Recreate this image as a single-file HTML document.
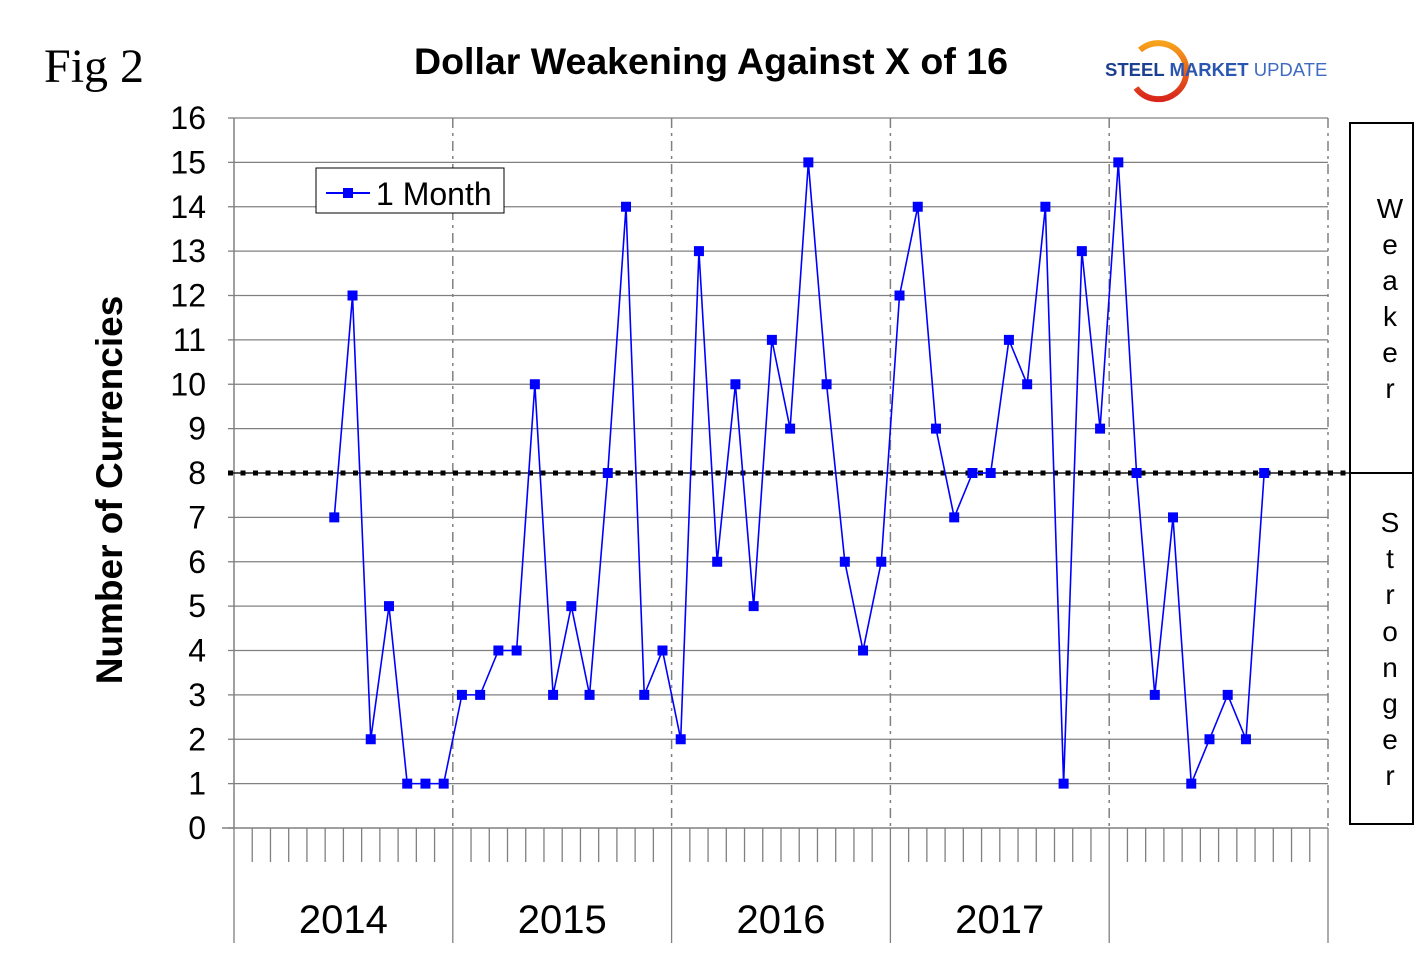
<!DOCTYPE html>
<html><head><meta charset="utf-8"><style>
body{margin:0;background:#fff;}
svg{display:block;font-family:"Liberation Sans",Arial,sans-serif;}
</style></head><body>
<svg id="chart" width="1422" height="973" viewBox="0 0 1422 973" xmlns="http://www.w3.org/2000/svg">
<text x="44" y="82" font-family="Liberation Serif,serif" font-size="48">Fig 2</text>
<text x="711" y="74" text-anchor="middle" font-size="37.5" font-weight="bold">Dollar Weakening Against X of 16</text>
<g>
<defs><linearGradient id="lg" x1="0" y1="0" x2="0" y2="1"><stop offset="0" stop-color="#f7a21b"/><stop offset="1" stop-color="#d8261b"/></linearGradient></defs>
<path d="M1140 50 A28 28 0 1 1 1136 88" fill="none" stroke="url(#lg)" stroke-width="6"/>
<text x="1105" y="76" font-size="18.5" font-weight="bold" fill="#1d3f8f">STEEL <tspan fill="#2a56b0">MARKET</tspan> <tspan font-weight="normal" fill="#3f6bc0">UPDATE</tspan></text>
</g>
<text transform="translate(122,490) rotate(-90)" text-anchor="middle" font-size="37" font-weight="bold">Number of Currencies</text>
<g id="grid"></g>
<g id="axes"></g>
<g id="series"></g>
<g>
<rect x="316" y="168" width="188" height="45" fill="#fff" stroke="#000" stroke-width="1"/>
<line x1="326" y1="193" x2="370" y2="193" stroke="#0000ff" stroke-width="2"/>
<rect x="343" y="188" width="10" height="10" fill="#0000ff"/>
<text x="376" y="205" font-size="32">1 Month</text>
</g>
<g>
<rect x="1350" y="123" width="63" height="701" fill="none" stroke="#000" stroke-width="2"/>
<line x1="1350" y1="473" x2="1413" y2="473" stroke="#000" stroke-width="2"/>
<text font-size="28" text-anchor="middle"><tspan x="1390" y="218">W</tspan><tspan x="1390" y="254">e</tspan><tspan x="1390" y="290">a</tspan><tspan x="1390" y="326">k</tspan><tspan x="1390" y="362">e</tspan><tspan x="1390" y="398">r</tspan></text>
<text font-size="28" text-anchor="middle"><tspan x="1390" y="532">S</tspan><tspan x="1390" y="568">t</tspan><tspan x="1390" y="604">r</tspan><tspan x="1390" y="641">o</tspan><tspan x="1390" y="677">n</tspan><tspan x="1390" y="713">g</tspan><tspan x="1390" y="749">e</tspan><tspan x="1390" y="785">r</tspan></text>
</g>
</svg>
<script>
const years = ["2014","2015","2016","2017",""];
const startMonthIndex = 5;
const values = [7,12,2,5,1,1,1,
 3,3,4,4,10,3,5,3,8,14,3,4,
 2,13,6,10,5,11,9,15,10,6,4,6,
 12,14,9,7,8,8,11,10,14,1,13,9,
 15,8,3,7,1,2,3,2,8];
const yTicks = [0,1,2,3,4,5,6,7,8,9,10,11,12,13,14,15,16];
const threshold = 8;

const NS="http://www.w3.org/2000/svg";
const X0=234, X1=1328, Y0=828, Y1=118, YMAX=16;
const monthW=(X1-X0)/(years.length*12);
const xm=i=>X0+(i+0.5)*monthW;
const yv=v=>Y0-(v/YMAX)*(Y0-Y1);
function mk(tag,attrs,parent){const e=document.createElementNS(NS,tag);for(const k in attrs)e.setAttribute(k,attrs[k]);parent.appendChild(e);return e;}
const grid=document.getElementById('grid'),axes=document.getElementById('axes'),series=document.getElementById('series');

yTicks.forEach(t=>{
  const y=yv(t);
  if(t>0){const l=mk('line',{x1:X0,y1:y,x2:X1,y2:y,stroke:'#808080','stroke-width':1.3},grid);
  
  }
  const tk=mk('line',{x1:X0-6,y1:y,x2:X0,y2:y,stroke:'#808080','stroke-width':1.3},axes);
  
  
  const tx=mk('text',{x:206,y:y+11,'text-anchor':'end','font-size':32},axes);
  tx.textContent=t;
  
  
});
for(let k=0;k<=years.length;k++){
  const x=X0+k*12*monthW;
  if(k>0){const d=mk('line',{x1:x,y1:Y1,x2:x,y2:Y0,stroke:'#808080','stroke-width':1.5,'stroke-dasharray':'10,5,3,5'},grid);
  
  }
  const b=mk('line',{x1:x,y1:Y0,x2:x,y2:943,stroke:'#808080','stroke-width':1.3},axes);
  
  
}
for(let m=1;m<years.length*12;m++){
  if(m%12===0)continue;
  const x=X0+m*monthW;
  const t=mk('line',{x1:x,y1:Y0,x2:x,y2:862,stroke:'#808080','stroke-width':1.3},axes);
  
  
}
years.forEach((yr,k)=>{
  if(!yr)return;
  const t=mk('text',{x:X0+(k+0.5)*12*monthW,y:933,'text-anchor':'middle','font-size':40},axes);
  t.textContent=yr;
  
  
});
const ax=mk('line',{x1:X0,y1:Y1,x2:X0,y2:Y0,stroke:'#808080','stroke-width':1.5},axes);


const xa=mk('line',{x1:222,y1:Y0,x2:X1,y2:Y0,stroke:'#808080','stroke-width':1.5},axes);



const th1=mk('line',{x1:228,y1:yv(threshold),x2:1350,y2:yv(threshold),stroke:'#000','stroke-width':1.3},series);


const th2=mk('line',{x1:228,y1:yv(threshold),x2:1350,y2:yv(threshold),stroke:'#000','stroke-width':5,'stroke-dasharray':'5,7.5'},series);



const pts=values.map((v,i)=>[xm(startMonthIndex+i),yv(v)]);
const pl=mk('polyline',{points:pts.map(p=>p.join(',')).join(' '),fill:'none',stroke:'#0000ff','stroke-width':1.6},series);


pts.forEach(p=>{
  const r=mk('rect',{x:p[0]-5,y:p[1]-5,width:10,height:10,fill:'#0000ff'},series);
  
  
});
</script>
</body></html>
